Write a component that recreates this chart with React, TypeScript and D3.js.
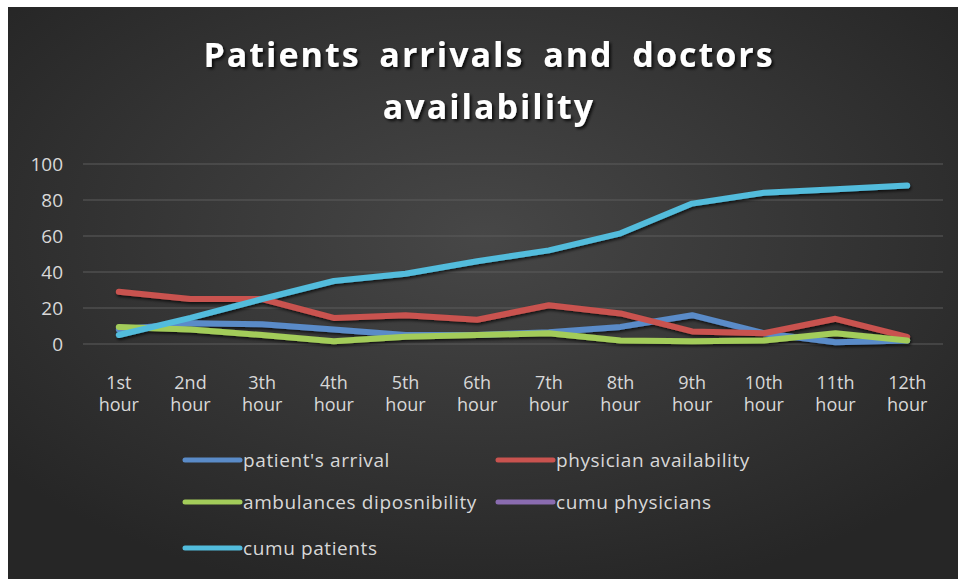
import React from "react";
import * as d3 from "d3";

const categories = ["1st", "2nd", "3th", "4th", "5th", "6th", "7th", "8th", "9th", "10th", "11th", "12th"];
const yTicks = [0, 20, 40, 60, 80, 100];

const patientsArrival = [8, 11.5, 11, 8, 5, 5, 6.5, 9.5, 16, 6, 1, 2];
const physicianAvailability = [29, 25, 25, 14.5, 16, 13.5, 21.5, 17, 7, 6, 14, 4];
const ambulancesDisponibility = [9.5, 8, 5, 1.5, 4, 5, 6, 2, 1.5, 2, 6, 2];
const cumuPhysicians: (number | null)[] = [null, null, null, null, null, null, null, null, null, null, null, null];
const cumuPatients = [5, 14.5, 25, 35, 39, 46, 52, 61.5, 78, 84, 86, 88];

const seriesNames = ["patient's arrival", "physician availability", "ambulances diposnibility", "cumu physicians", "cumu patients"];
const seriesColors = ["#5a8bc8", "#c9534f", "#a3cc5a", "#8a6cb0", "#52bcdc"];
const seriesData = [patientsArrival, physicianAvailability, ambulancesDisponibility, cumuPhysicians, cumuPatients];

const W = 958;
const H = 579;

export default function App() {
  const x = d3.scaleBand<string>().domain(categories).range([83, 943]);
  const y = d3.scaleLinear().domain([0, 100]).range([344, 164]);
  const cx = (c: string) => (x(c) as number) + x.bandwidth() / 2;

  const line = d3
    .line<number | null>()
    .defined((d) => d !== null)
    .x((_, i) => cx(categories[i]))
    .y((d) => y(d as number));

  const legendPos = [
    { x: 185, y: 460 },
    { x: 498, y: 460 },
    { x: 185, y: 502 },
    { x: 498, y: 502 },
    { x: 185, y: 548 },
  ];

  return (
    <svg
      width={W}
      height={H}
      style={{ position: "absolute", left: 0, top: 0, display: "block" }}
      fontFamily="'Open Sans', sans-serif"
    >
      <defs>
        <radialGradient id="bg" cx="50%" cy="40%" r="65%">
          <stop offset="0%" stopColor="#474747" />
          <stop offset="100%" stopColor="#262626" />
        </radialGradient>
        <filter id="tshadow" x="-10%" y="-30%" width="120%" height="160%">
          <feDropShadow dx="2" dy="2" stdDeviation="1.5" floodColor="#000" floodOpacity="0.8" />
        </filter>
        <filter id="lshadow" x="-10%" y="-30%" width="120%" height="160%">
          <feDropShadow dx="1" dy="2" stdDeviation="1.5" floodColor="#000" floodOpacity="0.7" />
        </filter>
      </defs>
      <rect x={0} y={0} width={W} height={H} fill="#ffffff" />
      <rect x={8} y={7} width={W - 8} height={H - 7} fill="url(#bg)" />

      <g fill="#ffffff" fontWeight="bold" fontSize={34} textAnchor="middle" filter="url(#tshadow)" letterSpacing={2} wordSpacing={8}>
        <text x={489} y={67}>Patients arrivals and doctors</text>
        <text x={489} y={119}>availability</text>
      </g>

      <g>
        {yTicks.map((t) => (
          <g key={t}>
            <line x1={83} x2={943} y1={y(t)} y2={y(t)} stroke="#5c5c5c" strokeWidth={1.2} />
            <text x={63} y={y(t)} dy="0.35em" textAnchor="end" fill="#d8d8d8" fontSize={19}>
              {t}
            </text>
          </g>
        ))}
      </g>

      <g fill="#d8d8d8" fontSize={18} textAnchor="middle">
        {categories.map((c) => (
          <g key={c}>
            <text x={cx(c)} y={389}>{c}</text>
            <text x={cx(c)} y={411}>hour</text>
          </g>
        ))}
      </g>

      <g filter="url(#lshadow)">
        {seriesData.map((s, i) => (
          <path
            key={seriesNames[i]}
            d={line(s as (number | null)[]) || ""}
            fill="none"
            stroke={seriesColors[i]}
            strokeWidth={6}
            strokeLinejoin="round"
            strokeLinecap="round"
          />
        ))}
      </g>

      <g fontSize={19} fill="#d8d8d8" letterSpacing={0.6}>
        {seriesNames.map((n, i) => (
          <g key={n}>
            <line
              x1={legendPos[i].x}
              x2={legendPos[i].x + 55}
              y1={legendPos[i].y}
              y2={legendPos[i].y}
              stroke={seriesColors[i]}
              strokeWidth={5}
              strokeLinecap="round"
            />
            <text x={legendPos[i].x + 58} y={legendPos[i].y} dy="0.35em">
              {n}
            </text>
          </g>
        ))}
      </g>
    </svg>
  );
}
